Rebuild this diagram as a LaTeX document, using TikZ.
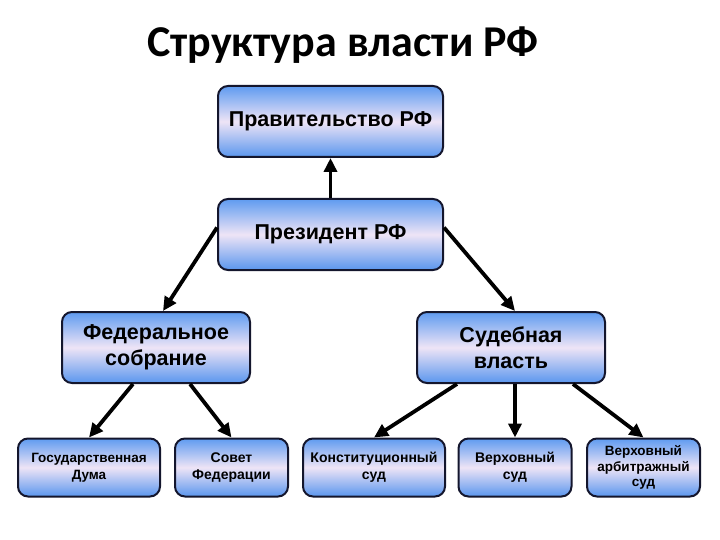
\documentclass[tikz,border=0pt]{standalone}
\usepackage{fontspec}
\setmainfont{Liberation Sans}
\newfontfamily\titlefont{Carlito}
\usetikzlibrary{arrows.meta,calc}
\definecolor{boxtop}{RGB}{95,155,240}
\definecolor{boxmid}{RGB}{238,228,246}
\definecolor{boxbot}{RGB}{90,150,238}
\definecolor{boxline}{RGB}{20,22,45}
\tikzset{
  govbox/.style={draw=boxline, line width=2pt, rounded corners=10pt,
    top color=boxtop, bottom color=boxbot, middle color=boxmid,
    align=center, font=\bfseries, inner sep=2pt},
  bigbox/.style={govbox, minimum width=225pt, minimum height=71pt, font=\fontsize{21.5}{25}\selectfont\bfseries},
  midbox/.style={govbox, minimum width=188pt, minimum height=71pt, font=\fontsize{21.5}{26}\selectfont\bfseries},
  smallbox/.style={govbox, minimum width=113pt, minimum height=58pt, font=\fontsize{14}{17}\selectfont\bfseries},
  conn/.style={line width=3.8pt, draw=black, -{Triangle[length=14pt,width=13pt]}}
}
\begin{document}
\begin{tikzpicture}[x=1pt,y=-1pt]
\useasboundingbox (0,0) rectangle (720,540);
\node[font=\titlefont\fontsize{44}{48}\selectfont\bfseries] (title) at (343,45) {Структура власти РФ};
\node[bigbox] (gov) at (330.5,121.5) {Правительство РФ};
\node[bigbox] (pres) at (330.5,234.5) {Президент РФ};
\node[midbox] (fed) at (156,347.5) {Федеральное\\собрание};
\node[midbox] (sud) at (511,347.5) {Судебная\\власть};
\node[smallbox, minimum width=142pt, font=\fontsize{13.5}{17}\selectfont\bfseries] (duma) at (89,467.5) {Государственная\\Дума};
\node[smallbox] (sovet) at (231.5,467.5) {Совет\\Федерации};
\node[smallbox, minimum width=142pt] (ks) at (374,467.5) {Конституционный\\суд};
\node[smallbox] (vs) at (515,467.5) {Верховный\\суд};
\node[smallbox, font=\fontsize{13.5}{15.5}\selectfont\bfseries] (vas) at (643.5,467.5) {Верховный\\арбитражный\\суд};
\draw[conn] (pres.north) -- (gov.south);
\draw[conn] ([yshift=7pt]pres.west) -- ([xshift=7pt]fed.north);
\draw[conn] ([yshift=7pt]pres.east) -- ([xshift=4pt]sud.north);
\draw[conn] ([xshift=-23pt]fed.south) -- (duma.north);
\draw[conn] ([xshift=34pt]fed.south) -- (sovet.north);
\draw[conn] ([xshift=-54pt]sud.south) -- (ks.north);
\draw[conn] ([xshift=4pt]sud.south) -- (vs.north);
\draw[conn] ([xshift=62pt]sud.south) -- (vas.north);
\end{tikzpicture}
\end{document}
